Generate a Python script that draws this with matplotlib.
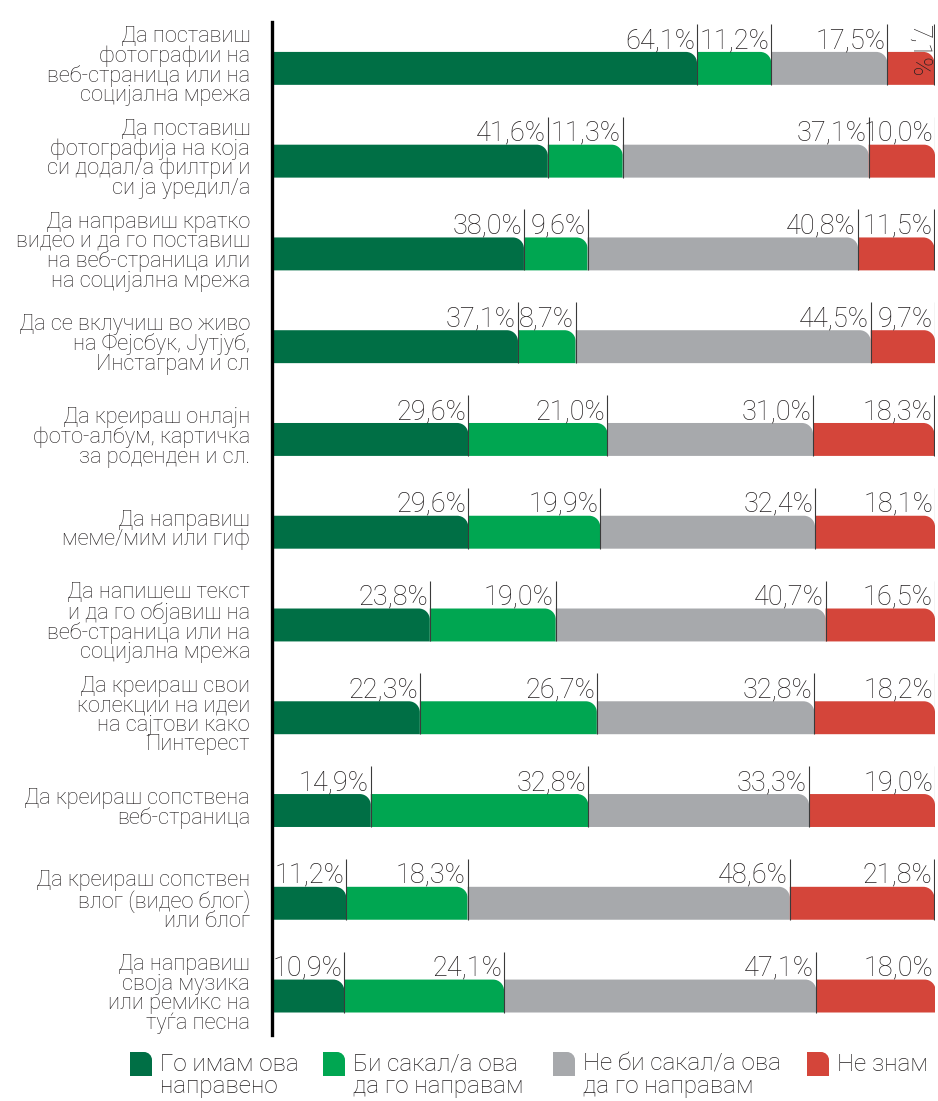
import numpy as np
import matplotlib.pyplot as plt
from matplotlib.path import Path
from matplotlib.patches import PathPatch

plt.rcParams['font.family'] = ['Roboto', 'DejaVu Sans']

# податоци
kategorii = [
    "Да поставиш\nфотографии на\nвеб-страница или на\nсоцијална мрежа",
    "Да поставиш\nфотографија на која\nси додал/а филтри и\nси ја уредил/а",
    "Да направиш кратко\nвидео и да го поставиш\nна веб-страница или\nна социјална мрежа",
    "Да се вклучиш во живо\nна Фејсбук, Јутјуб,\nИнстаграм и сл",
    "Да креираш онлајн\nфото-албум, картичка\nза роденден и сл.",
    "Да направиш\nмеме/мим или гиф",
    "Да напишеш текст\nи да го објавиш на\nвеб-страница или на\nсоцијална мрежа",
    "Да креираш свои\nколекции на идеи\nна сајтови како\nПинтерест",
    "Да креираш сопствена\nвеб-страница",
    "Да креираш сопствен\nвлог (видео блог)\nили блог",
    "Да направиш\nсвоја музика\nили ремикс на\nтуѓа песна",
]
go_imam = [64.1, 41.6, 38.0, 37.1, 29.6, 29.6, 23.8, 22.3, 14.9, 11.2, 10.9]
bi_sakal = [11.2, 11.3, 9.6, 8.7, 21.0, 19.9, 19.0, 26.7, 32.8, 18.3, 24.1]
ne_bi = [17.5, 37.1, 40.8, 44.5, 31.0, 32.4, 40.7, 32.8, 33.3, 48.6, 47.1]
ne_znam = [7.1, 10.0, 11.5, 9.7, 18.3, 18.1, 16.5, 18.2, 19.0, 21.8, 18.0]

serii = [go_imam, bi_sakal, ne_bi, ne_znam]
legenda = ["Го имам ова\nнаправено", "Би сакал/а ова\nда го направам",
           "Не би сакал/а ова\nда го направам", "Не знам"]
boi = ["#006f45", "#00a651", "#a7a9ac", "#d4453a"]
tekst_boja = "#231f20"

W, H = 938, 1101
fig = plt.figure(figsize=(W / 100, H / 100), dpi=100)
# оска: x од 272 до 935 px, y од 22 до 1035 px
ax = fig.add_axes([272 / W, 1 - 1035 / H, 663 / W, (1035 - 22) / H])
ax.set_xlim(0, 100)
ax.set_ylim(10.42, -0.5)
for s in ["top", "right", "bottom"]:
    ax.spines[s].set_visible(False)
ax.spines["left"].set_linewidth(2.4)
ax.spines["left"].set_color("black")
ax.set_xticks([])
ax.set_yticks([])

# пиксели по единица
px_x = 663 / 100
px_y = (1035 - 22) / 10.92
h = 0.355
r = 11
rx, ry = r / px_x, r / px_y
k = 0.45


def segment(ax, x0, w, y, color):
    x1 = x0 + w
    yt, yb = y - h / 2, y + h / 2
    verts = [(x0, yb), (x1, yb), (x1, yt + ry), (x1, yt + ry * k),
             (x1 - rx * k, yt), (x1 - rx, yt), (x0, yt), (x0, yb)]
    codes = [Path.MOVETO, Path.LINETO, Path.LINETO, Path.CURVE4,
             Path.CURVE4, Path.CURVE4, Path.LINETO, Path.CLOSEPOLY]
    ax.add_patch(PathPatch(Path(verts, codes), facecolor=color,
                           edgecolor="none", zorder=2))


for i in range(len(kategorii)):
    left = 0
    for j, ser in enumerate(serii):
        v = ser[i]
        segment(ax, left, v, i, boi[j])
        right = left + v
        # тенка линија на крајот на сегментот
        ax.plot([right, right], [i - h / 2 - 28 / px_y, i + h / 2],
                color="#3a3a3a", lw=0.8, zorder=3, solid_capstyle="butt")
        lab = f"{v:.1f}%".replace(".", ",")
        if v < 8:
            ax.text(right - 0.4, i - h / 2 - 28 / px_y, lab, rotation=270,
                    ha="right", va="top", fontsize=18.5, color=tekst_boja,
                    fontweight="light", zorder=4)
        else:
            ax.text(right - 0.3, i - h / 2 - 4 / px_y, lab, ha="right",
                    va="baseline", fontsize=19.5, color=tekst_boja,
                    fontweight="light", zorder=4)
        left = right
    fig.text(250 / W, 1 - (66 + 92.8 * i) / H, kategorii[i], ha="right",
             va="center", fontsize=15.7, color=tekst_boja, linespacing=0.9,
             fontweight="light")

# легенда
leg_x = [130, 323, 553, 807]
lax = fig.add_axes([0, 0, 1, 1], facecolor="none")
lax.set_xlim(0, W)
lax.set_ylim(H, 0)
lax.axis("off")
for x, lab, c in zip(leg_x, legenda, boi):
    x0, x1, yt, yb = x, x + 22, 1052, 1076
    rr = 8
    verts = [(x0, yb), (x1, yb), (x1, yt + rr), (x1, yt + rr * k),
             (x1 - rr * k, yt), (x1 - rr, yt), (x0, yt), (x0, yb)]
    codes = [Path.MOVETO, Path.LINETO, Path.LINETO, Path.CURVE4,
             Path.CURVE4, Path.CURVE4, Path.LINETO, Path.CLOSEPOLY]
    lax.add_patch(PathPatch(Path(verts, codes), facecolor=c, edgecolor="none"))
    lax.text(x1 + 8, 1053, lab, ha="left", va="top", fontsize=17.5,
             color=tekst_boja, linespacing=0.95, fontweight="light")

fig.savefig("out.png", dpi=100)
